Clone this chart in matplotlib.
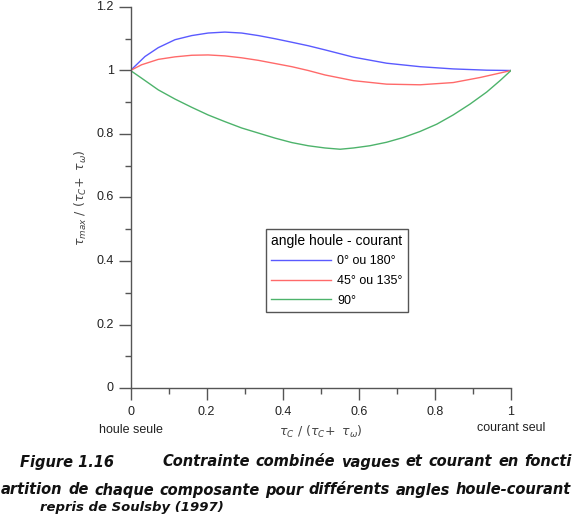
import matplotlib
matplotlib.use("Agg")
import matplotlib.pyplot as plt
from matplotlib.ticker import MultipleLocator

# Data
x_blue = [0.0, 0.038, 0.073, 0.117, 0.161, 0.204, 0.248, 0.292, 0.336, 0.380, 0.424,
          0.467, 0.511, 0.586, 0.673, 0.761, 0.848, 0.936, 1.0]
y_blue = [1.0, 1.044, 1.072, 1.097, 1.110, 1.118, 1.121, 1.118, 1.110, 1.100, 1.089,
          1.078, 1.065, 1.042, 1.023, 1.012, 1.005, 1.001, 1.0]

x_red = [0.0, 0.029, 0.073, 0.117, 0.161, 0.204, 0.248, 0.292, 0.336, 0.380, 0.424,
         0.467, 0.511, 0.586, 0.673, 0.761, 0.848, 0.919, 0.971, 1.0]
y_red = [1.0, 1.018, 1.035, 1.043, 1.048, 1.049, 1.046, 1.040, 1.032, 1.022, 1.012,
         1.000, 0.986, 0.968, 0.957, 0.955, 0.962, 0.978, 0.992, 1.0]

x_green = [0.0, 0.029, 0.073, 0.117, 0.161, 0.204, 0.248, 0.292, 0.336, 0.380, 0.424,
           0.467, 0.511, 0.551, 0.586, 0.629, 0.673, 0.717, 0.761, 0.805, 0.848, 0.892,
           0.936, 0.971, 1.0]
y_green = [1.0, 0.976, 0.939, 0.910, 0.884, 0.860, 0.839, 0.819, 0.803, 0.787, 0.773,
           0.763, 0.756, 0.752, 0.756, 0.763, 0.774, 0.789, 0.808, 0.831, 0.860, 0.894,
           0.932, 0.968, 1.0]

labels = ["0° ou 180°", "45° ou 135°", "90°"]
colors = ["#5a5aff", "#ff6a6a", "#4db36b"]
legend_title = "angle houle - courant"

xtick_vals = [0, 0.2, 0.4, 0.6, 0.8, 1]
xtick_txt = ["0", "0.2", "0.4", "0.6", "0.8", "1"]
ytick_vals = [0, 0.2, 0.4, 0.6, 0.8, 1, 1.2]
ytick_txt = ["0", "0.2", "0.4", "0.6", "0.8", "1", "1.2"]

caption_label = "Figure 1.16"
caption_line1 = "Contrainte combinée vagues et courant en foncti"
caption_line2 = "artition de chaque composante pour différents angles houle-courant"
caption_line3 = "repris de Soulsby (1997)"

plt.rcParams['font.family'] = ['Liberation Sans', 'DejaVu Sans']
plt.rcParams['mathtext.fontset'] = 'dejavusans'

W, H = 574, 515
fig = plt.figure(figsize=(W/100, H/100), dpi=100)
ax = fig.add_axes([130.5/W, 1-388/H, 380.5/W, 381/H])

for xs, ys, c, lab in zip([x_blue, x_red, x_green], [y_blue, y_red, y_green], colors, labels):
    ax.plot(xs, ys, color=c, lw=1.0, label=lab)

ax.set_xlim(0, 1)
ax.set_ylim(0, 1.2)
ax.xaxis.set_major_locator(MultipleLocator(0.2))
ax.xaxis.set_minor_locator(MultipleLocator(0.1))
ax.yaxis.set_major_locator(MultipleLocator(0.2))
ax.yaxis.set_minor_locator(MultipleLocator(0.1))
ax.set_xticklabels([])
ax.set_yticklabels([])
gray = "#555555"
for s in ["top", "right"]:
    ax.spines[s].set_visible(False)
for s in ["left", "bottom"]:
    ax.spines[s].set_color(gray)
    ax.spines[s].set_linewidth(1.0)
ax.tick_params(which='major', direction='out', length=8.5, width=1.0, color=gray)
ax.tick_params(which='minor', direction='out', length=4.5, width=1.0, color=gray)

for v, t in zip(xtick_vals, xtick_txt):
    ax.annotate(t, xy=(v, 0), xycoords=('data', 'axes fraction'), xytext=(0, -17),
                textcoords='offset points', ha='center', va='center', fontsize=9, color="#222222")
for v, t in zip(ytick_vals, ytick_txt):
    ax.annotate(t, xy=(0, v), xycoords=('axes fraction', 'data'), xytext=(-12, 0),
                textcoords='offset points', ha='right', va='center', fontsize=9, color="#222222")

ax.annotate("houle seule", xy=(0, 0), xycoords=('data', 'axes fraction'), xytext=(0, -30),
            textcoords='offset points', ha='center', va='center', fontsize=9, color="#222222")
ax.annotate("courant seul", xy=(1, 0), xycoords=('data', 'axes fraction'), xytext=(0, -29),
            textcoords='offset points', ha='center', va='center', fontsize=9, color="#222222")
ax.annotate(r"$\tau_C\ /\ (\tau_C\!+\ \tau_\omega)$", xy=(0.5, 0), xycoords='axes fraction',
            xytext=(0, -32), textcoords='offset points', ha='center', va='center',
            fontsize=9, color="#444444")
ax.annotate(r"$\tau_{max}\ /\ (\tau_C\!+\ \tau_\omega)$", xy=(0, 0.5), xycoords='axes fraction',
            xytext=(-36, 0), textcoords='offset points', ha='center', va='center',
            fontsize=9, color="#444444", rotation=90)

leg = ax.legend(title=legend_title, loc='upper left', bbox_to_anchor=(0.356, (388-229)/381),
                fontsize=9, title_fontsize=10, frameon=True, fancybox=False, framealpha=1,
                handlelength=4.8, handletextpad=0.5, borderpad=0.4, labelspacing=0.6,
                borderaxespad=0)
leg.get_frame().set_edgecolor("#555555")
leg.get_frame().set_linewidth(1.0)
leg._legend_box.align = "left"

cap_kw = dict(fontweight='bold', fontstyle='italic', family='DejaVu Sans', color="#111111")
renderer = fig.canvas.get_renderer()


def justified(line, x0, x1, ybase, size):
    words = line.split()
    while True:
        objs = [fig.text(0, 0, w, fontsize=size, va='baseline', **cap_kw) for w in words]
        widths = [o.get_window_extent(renderer).width for o in objs]
        gap = (x1 - x0 - sum(widths)) / max(len(words) - 1, 1)
        if gap >= 5 or size <= 7:
            break
        for o in objs:
            o.remove()
        size -= 0.25
    x = x0
    for o, w in zip(objs, widths):
        o.set_position((x / W, 1 - ybase / H))
        x += w + gap


fig.text(20/W, 1-466.5/H, caption_label, fontsize=10.5, va='baseline', **cap_kw)
justified(caption_line1, 162, 572, 466.5, 10.5)
justified(caption_line2, 1, 571, 494.5, 10.5)
fig.text(40/W, 0.6/H, caption_line3, fontsize=9.5, va='bottom', **cap_kw)

fig.savefig("out.png", dpi=100)
